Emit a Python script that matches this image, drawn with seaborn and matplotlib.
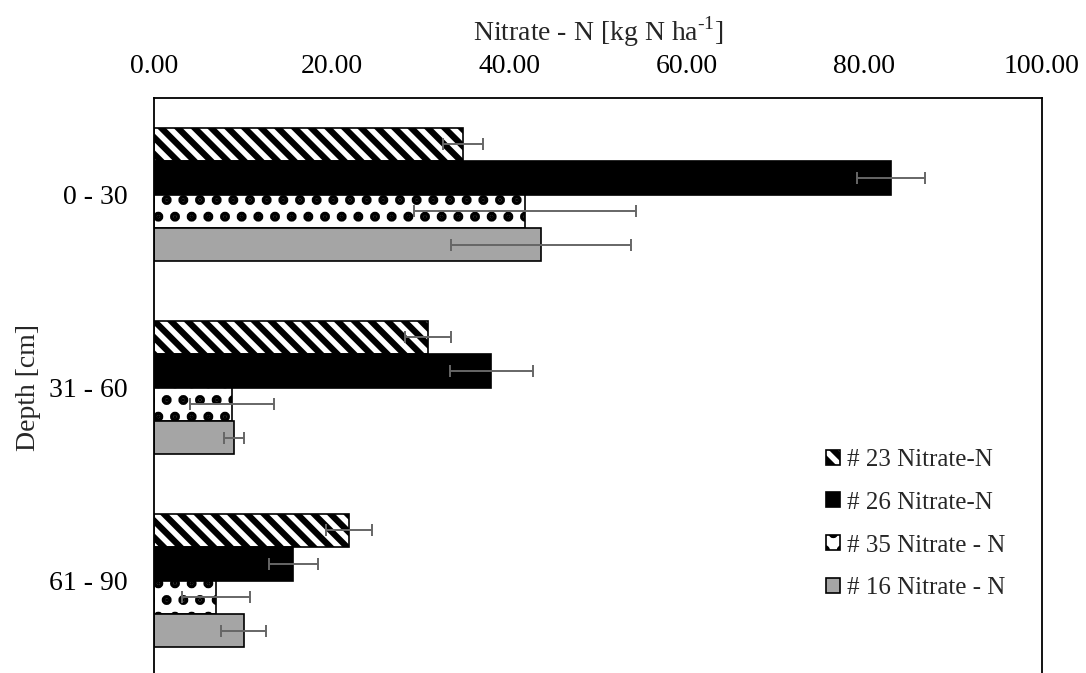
import matplotlib
matplotlib.use("Agg")
import matplotlib.pyplot as plt
import seaborn as sns
import pandas as pd

depths = ["0 - 30", "31 - 60", "61 - 90"]
series = ["# 23 Nitrate-N", "# 26 Nitrate-N", "# 35 Nitrate - N", "# 16 Nitrate - N"]

s23 = [34.8, 30.9, 22.0]
s26 = [83.0, 38.0, 15.7]
s35 = [41.8, 8.8, 7.0]
s16 = [43.6, 9.0, 10.1]

e23 = [2.3, 2.6, 2.6]
e26 = [3.8, 4.7, 2.8]
e35 = [12.5, 4.7, 3.8]
e16 = [10.1, 1.1, 2.5]

x_ticks = [0, 20, 40, 60, 80, 100]

values = [s23, s26, s35, s16]
errors = [e23, e26, e35, e16]
fills = ["white", "black", "white", "#A5A5A5"]
hatches = ["\\\\", "", ".", ""]
hatch_lw = [4.5, 1.0, 4.7, 1.0]

rows = []
for name, vals in zip(series, values):
    for d, v in zip(depths, vals):
        rows.append({"depth": d, "value": v, "series": name})
df = pd.DataFrame(rows)

sns.set_theme(style="white")
plt.rcParams["font.family"] = ["Liberation Serif", "DejaVu Serif"]
plt.rcParams["hatch.linewidth"] = 4.5
plt.rcParams["hatch.color"] = "black"
plt.rcParams["mathtext.fontset"] = "custom"
plt.rcParams["mathtext.rm"] = "Liberation Serif"

W, H = 1086, 673
fig = plt.figure(figsize=(W / 100, H / 100), dpi=100)
ax = fig.add_axes([154 / W, (H - 677) / H, (1042 - 154) / W, 579 / H])

sns.barplot(data=df, x="value", y="depth", hue="series", orient="h",
            hue_order=series, order=depths,
            palette=dict(zip(series, fills)), saturation=1,
            edgecolor="black", linewidth=1.2, errorbar=None,
            width=0.694, gap=0, legend=False, ax=ax)

bar_conts = list(ax.containers)
for cont, hatch, hlw, errs in zip(bar_conts, hatches, hatch_lw, errors):
    xs, ys = [], []
    for p in cont.patches:
        if hatch:
            p.set_hatch(hatch)
            if hasattr(p, "set_hatch_linewidth"):
                p.set_hatch_linewidth(hlw)
        xs.append(p.get_width())
        ys.append(p.get_y() + p.get_height() / 2)
    ax.errorbar(xs, ys, xerr=errs, fmt="none", ecolor="#666666",
                elinewidth=1.4, capsize=4.5, capthick=1.4, zorder=5)

ax.set_xlim(0, 100)
ax.set_ylim(2.5, -0.5)
ax.xaxis.tick_top()
ax.xaxis.set_label_position("top")
ax.set_xticks(x_ticks)
ax.set_xticklabels([f"{t:.2f}" for t in x_ticks])
ax.tick_params(axis="x", length=0, pad=14, labelsize=20, colors="black")
ax.tick_params(axis="y", length=0, pad=19, labelsize=20, colors="black")
ax.set_xlabel(r"Nitrate - N [kg N ha$^{\text{-1}}$]", fontsize=20, labelpad=9)
ax.set_ylabel("Depth [cm]", fontsize=20, labelpad=6)
for s in ax.spines.values():
    s.set_visible(True)
    s.set_color("black")
    s.set_linewidth(1.3)

handles = [c.patches[0] for c in bar_conts]
leg = fig.legend(handles, series, loc="upper left",
                 bbox_to_anchor=(826 / W, 1 - 449 / H),
                 frameon=False, fontsize=18, handlelength=0.55,
                 handleheight=0.55, handletextpad=0.3, labelspacing=0.83,
                 borderpad=0, borderaxespad=0)

fig.savefig("out.png", dpi=100)
